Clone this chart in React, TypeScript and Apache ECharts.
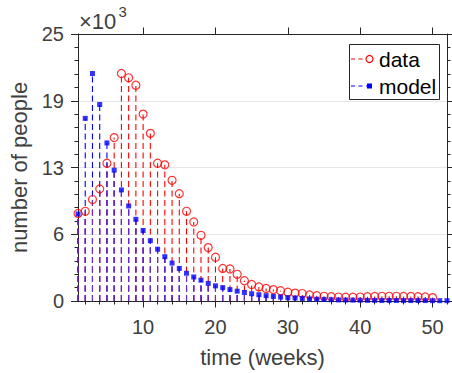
import React, { useEffect, useRef } from "react";
import * as echarts from "echarts";

// weekly counts, in thousands of people (axis shows ×10^3)
const dataValues = [
  8.2, 8.4, 9.5, 10.5, 12.9, 15.3, 21.3, 20.9, 20.2, 17.5,
  15.7, 12.9, 12.75, 11.3, 10.05, 8.4, 7.4, 6.15, 5.0, 4.1,
  3.05, 3.0, 2.5, 1.9, 1.55, 1.32, 1.17, 1.07, 0.96, 0.82,
  0.74, 0.7, 0.57, 0.5, 0.44, 0.4, 0.37, 0.35, 0.35, 0.37,
  0.4, 0.43, 0.44, 0.44, 0.44, 0.42, 0.42, 0.41, 0.38, 0.32,
];
const modelValues = [
  8.15, 17.1, 21.3, 18.4, 14.8, 12.25, 10.4, 8.9, 7.65, 6.6,
  5.65, 4.85, 4.15, 3.55, 3.05, 2.6, 2.25, 1.95, 1.65, 1.42,
  1.25, 1.07, 0.92, 0.8, 0.68, 0.59, 0.5, 0.43, 0.37, 0.31,
  0.28, 0.24, 0.2, 0.17, 0.14, 0.12, 0.1, 0.09, 0.08, 0.07,
  0.06, 0.06, 0.05, 0.05, 0.05, 0.04, 0.04, 0.04, 0.04, 0.03,
  0.03, 0.03,
];
const xMajorTicks = [10, 20, 30, 40, 50];
const xMinorTicks = [2, 4, 6, 8, 12, 14, 16, 18, 22, 24, 26, 28, 32, 34, 36, 38, 42, 44, 46, 48, 52];
const seriesNames = ["data", "model"];

const FONT = "'Liberation Sans', Arial, Helvetica, sans-serif";
const AXIS = "#262626";
const TEXT = "#404040";
const RED = "#ff0000";
const BLUE = "#0000ff";
const PURPLE = "#6a2fc4";

const toPairs = (arr: number[]) => arr.map((v, i) => [i + 1, v]);

const stemSeries = (name: string, pairs: number[][], color: string) => ({
  type: "custom",
  name,
  xAxisIndex: 0,
  yAxisIndex: 0,
  silent: true,
  data: pairs,
  renderItem: (params: any, api: any) => {
    const x = api.value(0);
    const y = api.value(1);
    const base = api.coord([x, 0]);
    const top = api.coord([x, y]);
    return {
      type: "line",
      shape: { x1: base[0], y1: base[1], x2: top[0], y2: top[1] },
      style: { stroke: color, lineWidth: 1.1, lineDash: [6, 3.5], fill: null },
    };
  },
});

export default function App() {
  const ref = useRef<HTMLDivElement>(null);
  useEffect(() => {
    if (!ref.current) return;
    const chart = echarts.init(ref.current, null, { renderer: "svg" });
    const dataPairs = toPairs(dataValues);
    const modelPairs = toPairs(modelValues);
    const overlapPairs = dataValues.map((v, i) => [i + 1, Math.min(v, modelValues[i])]);

    const xCommon = { type: "value", min: 1, max: 52, splitLine: { show: false } };
    const yCommon = { type: "value", min: 0, max: 25, interval: 6.25 };

    chart.setOption({
      animation: false,
      grid: { left: 78, top: 34, width: 369, height: 270 },
      xAxis: [
        {
          ...xCommon,
          position: "bottom",
          axisLine: { show: true, onZero: false, lineStyle: { color: AXIS, width: 1 } },
          axisTick: { show: true, inside: false, length: 6.5, customValues: xMajorTicks, lineStyle: { color: AXIS } },
          axisLabel: { customValues: xMajorTicks, fontSize: 20, color: TEXT, fontFamily: FONT, margin: 16 },
          name: "time (weeks)",
          nameLocation: "middle",
          nameGap: 45,
          nameTextStyle: { fontSize: 22, color: TEXT, fontFamily: FONT },
        },
        {
          ...xCommon,
          position: "bottom",
          axisLine: { show: false },
          axisTick: { show: true, length: 3.5, customValues: xMinorTicks, lineStyle: { color: AXIS } },
          axisLabel: { show: false },
        },
        {
          ...xCommon,
          position: "top",
          axisLine: { show: true, onZero: false, lineStyle: { color: AXIS, width: 1 } },
          axisTick: { show: true, length: 6.5, customValues: xMajorTicks, lineStyle: { color: AXIS } },
          axisLabel: { show: false },
        },
        {
          ...xCommon,
          position: "top",
          axisLine: { show: false },
          axisTick: { show: true, length: 3.5, customValues: xMinorTicks, lineStyle: { color: AXIS } },
          axisLabel: { show: false },
        },
      ],
      yAxis: [
        {
          ...yCommon,
          position: "left",
          axisLine: { show: true, onZero: false, lineStyle: { color: AXIS, width: 1 } },
          axisTick: { show: true, length: 7, lineStyle: { color: AXIS } },
          minorTick: { show: true, splitNumber: 5, length: 3.5, lineStyle: { color: AXIS } },
          axisLabel: {
            fontSize: 20,
            color: TEXT,
            fontFamily: FONT,
            margin: 14,
            padding: [4, 0, 0, 0],
            formatter: (v: number) => String(Math.round(v)),
          },
          splitLine: { show: true, lineStyle: { color: "#e6e6e6", width: 1 } },
          name: "number of people",
          nameLocation: "middle",
          nameGap: 44,
          nameTextStyle: { fontSize: 22, color: TEXT, fontFamily: FONT },
        },
        {
          ...yCommon,
          position: "right",
          axisLine: { show: true, onZero: false, lineStyle: { color: AXIS, width: 1 } },
          axisTick: { show: true, length: 7, lineStyle: { color: AXIS } },
          minorTick: { show: true, splitNumber: 5, length: 3.5, lineStyle: { color: AXIS } },
          axisLabel: { show: false },
          splitLine: { show: false },
        },
      ],
      series: [
        stemSeries("dataStem", dataPairs, RED),
        stemSeries("modelStem", modelPairs, BLUE),
        stemSeries("overlapStem", overlapPairs, PURPLE),
        {
          type: "scatter",
          name: seriesNames[0],
          data: dataPairs,
          symbol: "circle",
          symbolSize: 8,
          clip: false,
          itemStyle: { color: "rgba(255,255,255,0)", borderColor: RED, borderWidth: 1.2 },
        },
        {
          type: "scatter",
          name: seriesNames[1],
          data: modelPairs,
          symbol: "rect",
          symbolSize: 5,
          clip: false,
          itemStyle: { color: BLUE },
        },
      ],
      graphic: [
        {
          type: "text",
          x: 79,
          y: 10,
          style: { text: "×10", font: "22px 'Liberation Sans', Arial, sans-serif", fill: TEXT, verticalAlign: "top" },
        },
        {
          type: "text",
          x: 118.5,
          y: 4,
          style: { text: "3", font: "15px 'Liberation Sans', Arial, sans-serif", fill: TEXT, verticalAlign: "top" },
        },
        {
          type: "rect",
          z: 100,
          shape: { x: 349.5, y: 44.5, width: 90, height: 55 },
          style: { fill: "#ffffff", stroke: AXIS, lineWidth: 1 },
        },
        {
          type: "line",
          z: 101,
          shape: { x1: 351, y1: 59, x2: 369, y2: 59 },
          style: { stroke: RED, lineWidth: 1, lineDash: [4, 3.5] },
        },
        {
          type: "circle",
          z: 102,
          shape: { cx: 369.5, cy: 59, r: 3.5 },
          style: { fill: "#ffffff", stroke: RED, lineWidth: 1.2 },
        },
        {
          type: "text",
          z: 102,
          x: 379,
          y: 59,
          style: { text: seriesNames[0], fontSize: 21, fill: "#000000", fontFamily: FONT, verticalAlign: "middle" },
        },
        {
          type: "line",
          z: 101,
          shape: { x1: 351, y1: 86, x2: 369, y2: 86 },
          style: { stroke: BLUE, lineWidth: 1, lineDash: [4, 3.5] },
        },
        {
          type: "rect",
          z: 102,
          shape: { x: 367, y: 83.5, width: 5, height: 5 },
          style: { fill: BLUE },
        },
        {
          type: "text",
          z: 102,
          x: 379,
          y: 86,
          style: { text: seriesNames[1], fontSize: 21, fill: "#000000", fontFamily: FONT, verticalAlign: "middle" },
        },
      ],
    });
    return () => chart.dispose();
  }, []);
  return (
    <div
      ref={ref}
      style={{ position: "absolute", left: 0, top: 0, width: 452, height: 373, background: "#ffffff" }}
    />
  );
}
